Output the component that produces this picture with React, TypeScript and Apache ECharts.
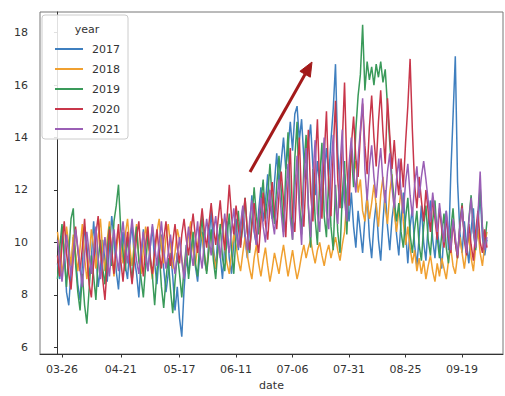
import React, { useEffect, useRef } from "react";
import * as echarts from "echarts";

// day 0 = 03-24, day 190 = 09-30
const startMonth = 3;
const startDay = 24;
const nDays = 191;
const monthLen = [0, 31, 28, 31, 30, 31, 30, 31, 31, 30, 31, 30, 31];
const dates: string[] = (() => {
  const out: string[] = [];
  let m = startMonth, d = startDay;
  for (let i = 0; i < nDays; i++) {
    out.push(String(m).padStart(2, "0") + "-" + String(d).padStart(2, "0"));
    d++;
    if (d > monthLen[m]) { d = 1; m++; }
  }
  return out;
})();

const tickLabels = ["03-26", "04-21", "05-17", "06-11", "07-06", "07-31", "08-25", "09-19"];
const yTicks = [6, 8, 10, 12, 14, 16, 18];
const years = ["2017", "2018", "2019", "2020", "2021"];
const colors = ["#3f7fbf", "#f0a030", "#3a9a5a", "#c8364a", "#9a5fb5"];

const v2017 = [
  9.2, 8.6, 10.4, 9.8, 8.1, 7.6, 8.9, 10.2, 9.5, 8.4,
  7.8, 9.1, 10.6, 9.9, 8.7, 9.4, 10.8, 9.6, 8.3, 9.0,
  10.1, 9.3, 8.5, 9.8, 11.0, 10.2, 8.9, 8.2, 9.6, 10.4,
  9.1, 8.6, 9.9, 10.7, 9.4, 8.8, 7.9, 9.3, 10.5, 9.7,
  8.9, 9.8, 10.6, 9.2, 8.4, 9.5, 10.3, 9.0, 8.1, 8.8,
  9.6, 8.7, 7.4, 8.3, 7.1, 6.4, 8.2, 9.4, 8.8, 9.7,
  10.2, 9.1, 8.5, 9.6, 10.4, 9.3, 8.9, 10.1, 11.2, 9.8,
  9.0, 10.3, 9.5, 8.6, 9.9, 10.8, 9.4, 8.8, 10.0, 10.9,
  9.7, 10.5, 11.3, 10.1, 9.4, 10.6, 11.8, 10.4, 9.9, 11.2,
  12.1, 10.8, 11.5, 12.6, 11.4, 10.9, 12.3, 13.4, 12.2, 13.1,
  14.0, 12.8, 13.6, 14.6, 13.5, 14.9, 15.2, 13.9, 14.7, 13.2,
  12.4, 13.8, 14.5, 12.9, 11.8, 13.1, 12.2, 11.4, 12.7, 13.6,
  12.5, 13.9, 15.1, 16.8, 13.4, 12.1, 11.3, 12.6, 11.7, 10.8,
  11.9, 10.6, 9.8, 11.2, 10.4, 9.6, 10.9, 11.8, 10.2, 9.4,
  10.7, 11.5, 10.1, 9.3, 10.8, 12.0, 10.6, 9.7, 10.9, 11.6,
  10.3, 9.5, 10.8, 11.9, 10.4, 9.2, 10.6, 11.3, 9.9, 9.1,
  10.2, 11.4, 10.0, 9.3, 10.7, 11.6, 10.1, 9.4, 10.5, 9.8,
  9.0, 10.4, 11.2, 9.7, 12.6, 14.8, 17.1, 12.3, 10.4, 9.6,
  10.8, 9.9, 9.2, 10.5, 11.3, 9.8, 10.6, 11.9, 10.2, 9.5,
  10.1,
];
const v2018 = [
  10.4, 9.7, 8.8, 9.5, 10.6, 9.9, 9.1, 10.3, 9.6, 8.9,
  9.8, 10.7, 9.4, 8.6, 9.3, 10.5, 9.8, 9.0, 10.2, 10.9,
  9.7, 8.9, 10.1, 10.8, 9.5, 8.7, 9.6, 10.4, 9.9, 9.2,
  10.3, 10.9, 9.8, 9.1, 10.0, 10.7, 9.4, 8.8, 9.7, 10.6,
  10.1, 9.3, 8.6, 9.5, 10.4, 10.9, 9.8, 9.2, 10.2, 10.7,
  9.9, 9.0, 9.6, 10.5, 10.1, 9.4, 8.7, 9.5, 10.3, 10.8,
  9.7, 9.1, 9.9, 10.6, 10.2, 9.5, 8.9, 9.8, 10.4, 9.6,
  9.0, 9.7, 10.5, 10.9, 9.8, 9.2, 8.8, 9.6, 10.3, 9.9,
  9.3, 8.9, 9.6, 10.2, 9.5, 9.0, 8.6, 9.4, 9.9, 9.2,
  8.7, 9.3, 9.8, 9.1, 8.5, 9.0, 9.6, 9.2, 8.8, 9.4,
  9.9, 9.3, 8.7, 9.2, 9.7, 9.1, 8.6, 9.0, 9.5, 9.9,
  9.4, 9.8, 10.1, 9.6, 9.2, 9.7, 10.0, 9.5, 9.1, 9.6,
  9.9, 9.4, 9.8, 10.2, 9.7, 9.3, 9.9, 10.4, 11.6, 12.8,
  13.4, 12.6, 13.1, 11.9, 12.4, 11.2, 10.8, 11.7, 10.9, 11.5,
  12.2, 11.4, 10.6, 11.8, 12.5, 11.3, 10.7, 11.9, 12.6, 11.1,
  10.4, 11.2, 12.0, 10.8, 9.9, 10.6, 9.8, 9.2, 9.7, 8.9,
  9.4, 8.8, 9.3, 8.6, 9.1, 9.5, 8.9, 8.5, 9.2, 8.7,
  9.4, 9.0, 8.6, 9.3, 9.8, 9.1, 8.8, 9.5, 10.2, 9.6,
  9.0, 9.7, 10.3, 9.4, 8.9, 9.8, 10.5, 9.6, 9.1, 9.9,
  10.4,
];
const v2019 = [
  8.6, 9.8, 10.7, 9.4, 8.3, 9.6, 10.9, 11.3, 9.2, 8.1,
  7.4, 8.8, 7.6, 6.9, 8.2, 9.5, 8.7, 7.8, 9.3, 10.1,
  9.0, 8.4, 9.7, 10.6, 9.1, 10.8, 11.4, 12.2, 10.5, 9.6,
  8.9, 10.2, 9.4, 8.5, 9.8, 10.6, 9.3, 8.6, 7.9, 9.1,
  10.3, 9.5, 8.7, 7.6, 8.9, 9.7, 8.3, 7.5, 8.6, 9.4,
  8.2, 7.3, 8.5, 9.6, 8.8, 7.9, 9.0, 9.9, 8.6, 9.5,
  10.4, 9.2, 8.7, 10.1, 11.0, 9.6, 8.8, 9.7, 10.5, 9.3,
  8.6, 9.8, 10.7, 9.4, 8.9, 10.2, 11.1, 9.7, 8.8, 10.3,
  11.2, 9.9, 10.6, 11.7, 10.4, 9.6, 10.8, 12.1, 11.0, 10.3,
  11.5, 12.4, 10.9, 11.8, 13.0, 11.6, 10.7, 12.2, 13.3, 12.0,
  10.4, 12.7, 14.2, 11.5, 10.1, 13.2, 14.6, 11.6, 10.3, 12.9,
  14.1, 11.3, 9.8, 12.8, 10.9, 9.9, 12.4, 13.8, 11.0, 10.2,
  12.5, 10.6, 9.7, 12.2, 10.4, 9.6, 11.8, 13.1, 10.3, 12.4,
  13.5, 12.1, 14.3, 15.6, 16.4, 18.3, 15.8, 16.9, 16.2, 16.7,
  16.0, 16.8, 16.3, 16.9, 16.1, 16.6, 15.2, 13.8, 12.4, 11.6,
  10.8, 11.5, 10.4, 9.8, 10.9, 11.7, 10.3, 9.6, 10.5, 11.2,
  9.9, 9.3, 10.6, 11.4, 10.1, 9.5, 10.8, 11.6, 10.2, 9.4,
  10.3, 11.1, 9.8, 9.2, 10.5, 11.3, 10.0, 9.4, 10.7, 11.5,
  10.2, 9.6, 10.9, 11.8, 10.4, 9.7, 11.0, 12.1, 10.6, 9.9,
  10.8,
];
const v2020 = [
  9.5, 8.7, 9.9, 10.8, 9.6, 8.8, 8.2, 9.4, 10.6, 9.7,
  8.9, 9.8, 10.9, 9.5, 8.4, 7.9, 9.2, 10.3, 11.0, 9.8,
  8.6, 7.8, 9.1, 10.5, 9.7, 8.8, 9.9, 10.7, 9.3, 8.5,
  9.6, 10.4, 9.2, 8.4, 9.3, 10.2, 10.8, 9.5, 8.7, 9.9,
  10.6, 9.4, 8.8, 9.7, 10.5, 9.6, 9.0, 10.1, 10.8, 9.7,
  9.1, 10.0, 10.7, 9.8, 9.2, 10.3, 10.9, 10.1, 9.5, 10.4,
  11.1, 10.2, 9.6, 10.5, 11.3, 10.4, 9.8, 10.7, 11.5, 10.6,
  9.9, 10.8, 11.6, 10.5, 9.7, 10.9, 12.2, 11.0, 10.3, 11.4,
  10.6, 9.8, 10.9, 11.7, 10.4, 9.7, 10.6, 11.5, 10.2, 9.6,
  10.8, 11.9, 10.7, 10.1, 11.4, 12.3, 11.2, 10.5, 11.8, 12.7,
  11.6, 10.2, 12.2, 13.6, 11.0, 10.4, 12.5, 14.0, 11.5, 10.6,
  12.6, 14.3, 11.9, 10.8, 13.0, 14.7, 12.1, 10.9, 13.3, 15.0,
  12.2, 11.0, 13.5, 15.4, 12.4, 11.3, 13.8, 16.1, 12.9, 11.4,
  13.7, 14.8, 13.2, 12.5, 14.1, 15.3, 13.7, 12.6, 14.4, 15.6,
  14.0, 12.9, 14.6, 15.8, 14.2, 13.0, 15.5, 14.1, 12.8, 13.9,
  12.6, 11.8, 13.2, 12.1, 13.8, 15.2, 17.0, 14.3, 12.2, 11.3,
  12.5, 11.6, 10.8, 12.0, 11.2, 10.4, 11.7, 10.9, 10.1, 11.3,
  10.5, 9.8, 11.0, 10.2, 9.6, 10.8, 10.0, 9.4, 10.6, 11.4,
  10.1, 9.5, 10.7, 9.9, 9.3, 10.4, 11.2, 10.0, 9.6, 10.5,
  9.8,
];
const v2021 = [
  10.1, 9.3, 8.5, 9.4, 10.3, 9.5, 8.7, 9.6, 10.5, 9.8,
  9.0, 8.3, 9.5, 10.4, 9.6, 8.8, 9.7, 10.6, 9.4, 8.6,
  9.3, 10.2, 9.4, 8.7, 9.8, 10.5, 9.6, 8.9, 10.0, 10.8,
  9.9, 9.2, 10.1, 10.9, 10.0, 9.3, 8.8, 9.7, 10.4, 9.5,
  8.9, 9.8, 10.7, 9.9, 9.1, 10.0, 10.8, 9.7, 9.0, 9.6,
  10.3, 9.4, 8.8, 9.5, 10.2, 9.3, 8.6, 9.8, 10.6, 9.7,
  9.1, 10.0, 10.8, 9.6, 9.0, 10.1, 10.9, 10.2, 9.5, 10.4,
  11.0, 10.1, 9.4, 10.3, 11.1, 10.2, 9.6, 10.5, 11.3, 10.4,
  9.8, 10.7, 11.4, 10.3, 9.7, 10.8, 11.6, 10.5, 9.9, 10.9,
  11.7, 10.6, 10.0, 11.2, 12.0, 10.9, 10.3, 11.5, 12.4, 11.1,
  10.2, 11.8, 13.0, 10.9, 10.1, 12.0, 13.3, 11.2, 9.9, 12.3,
  13.6, 11.4, 10.2, 12.5, 13.9, 11.1, 10.4, 12.7, 14.0, 11.2,
  10.5, 12.8, 14.1, 11.4, 10.7, 12.9, 14.3, 11.6, 10.8, 13.0,
  14.0, 12.7, 11.9, 13.2, 14.3, 15.5, 12.8, 11.6, 12.9, 13.7,
  12.5, 11.7, 12.8, 13.6, 12.3, 11.5, 12.7, 13.4, 12.1, 11.3,
  12.4, 13.2, 11.9, 11.1, 12.3, 13.0, 11.8, 11.0, 12.2, 12.9,
  11.7, 12.5, 13.1, 12.4, 11.6, 10.8, 11.9, 11.1, 10.4, 11.5,
  10.7, 10.0, 11.2, 10.4, 9.7, 10.9, 10.2, 9.5, 10.6, 11.3,
  10.3, 9.6, 10.8, 11.7, 10.4, 9.8, 11.0, 12.7, 10.5, 9.7,
  10.2,
];
const seriesValues = [v2017, v2018, v2019, v2020, v2021];

const FONT = "DejaVu Sans";

export default function App() {
  const ref = useRef<HTMLDivElement>(null);
  useEffect(() => {
    document.body.style.margin = "0";
    const chart = echarts.init(ref.current!, null, { renderer: "svg" });
    const tickIdx = tickLabels.map((t) => dates.indexOf(t));
    chart.setOption({
      animation: false,
      backgroundColor: "#ffffff",
      grid: {
        left: 40, right: 2, top: 12, bottom: 38,
        show: true, borderColor: "#777", borderWidth: 1, backgroundColor: "transparent",
      },
      xAxis: {
        type: "value",
        min: -7.73,
        max: 197.1,
        name: "date",
        nameLocation: "middle",
        nameGap: 26,
        nameTextStyle: { fontFamily: FONT, fontSize: 11, color: "#333" },
        axisLine: { show: true, lineStyle: { color: "#333", width: 1 } },
        axisTick: { show: true, customValues: tickIdx, length: 3.5, lineStyle: { color: "#333" } },
        axisLabel: {
          customValues: tickIdx,
          formatter: (v: number) => dates[Math.round(v)] ?? "",
          fontFamily: FONT, fontSize: 11, color: "#333", margin: 10,
        },
        splitLine: { show: false },
      },
      yAxis: {
        type: "value",
        min: 5.74,
        max: 18.79,
        axisLine: { show: true, lineStyle: { color: "#333", width: 1 } },
        axisTick: { show: true, customValues: yTicks, length: 3.5, lineStyle: { color: "#333" } },
        axisLabel: {
          customValues: yTicks,
          formatter: (v: number) => String(v),
          fontFamily: FONT, fontSize: 11, color: "#333", margin: 12,
        },
        splitLine: { show: false },
      },
      legend: {
        data: years,
        orient: "vertical",
        left: 50,
        top: 38,
        itemWidth: 28,
        itemHeight: 2,
        itemGap: 8,
        icon: "rect",
        z: 20,
        textStyle: { fontFamily: FONT, fontSize: 11, color: "#333", lineHeight: 12, padding: [0, 0, 0, 4] },
      },
      graphic: [
        {
          type: "rect",
          z: 15,
          shape: { x: 42, y: 15, width: 86, height: 124, r: 3 },
          style: { fill: "rgba(255,255,255,0.85)", stroke: "#cccccc", lineWidth: 1 },
        },
        {
          type: "text",
          z: 16,
          x: 87,
          y: 29,
          style: { text: "year", fontFamily: FONT, fontSize: 11, fill: "#333", align: "center", verticalAlign: "middle" },
        },
        {
          type: "line",
          z: 12,
          shape: { x1: 250, y1: 172, x2: 305.1, y2: 74.2 },
          style: { stroke: "#a31a1a", lineWidth: 3 },
        },
        {
          type: "polygon",
          z: 12,
          shape: { points: [[312, 62], [310.3, 77.2], [299.9, 71.3]] },
          style: { fill: "#a31a1a", stroke: "#a31a1a", lineWidth: 1 },
        },
      ],
      series: years.map((y, k) => ({
        name: y,
        type: "line",
        data: seriesValues[k].map((v, i) => [i, v]),
        showSymbol: false,
        symbol: "none",
        color: colors[k],
        lineStyle: { width: 1.5, color: colors[k] },
        z: 2,
      })),
    });
    return () => chart.dispose();
  }, []);
  return <div ref={ref} style={{ position: "fixed", left: 0, top: 0, width: 505, height: 396 }} />;
}
